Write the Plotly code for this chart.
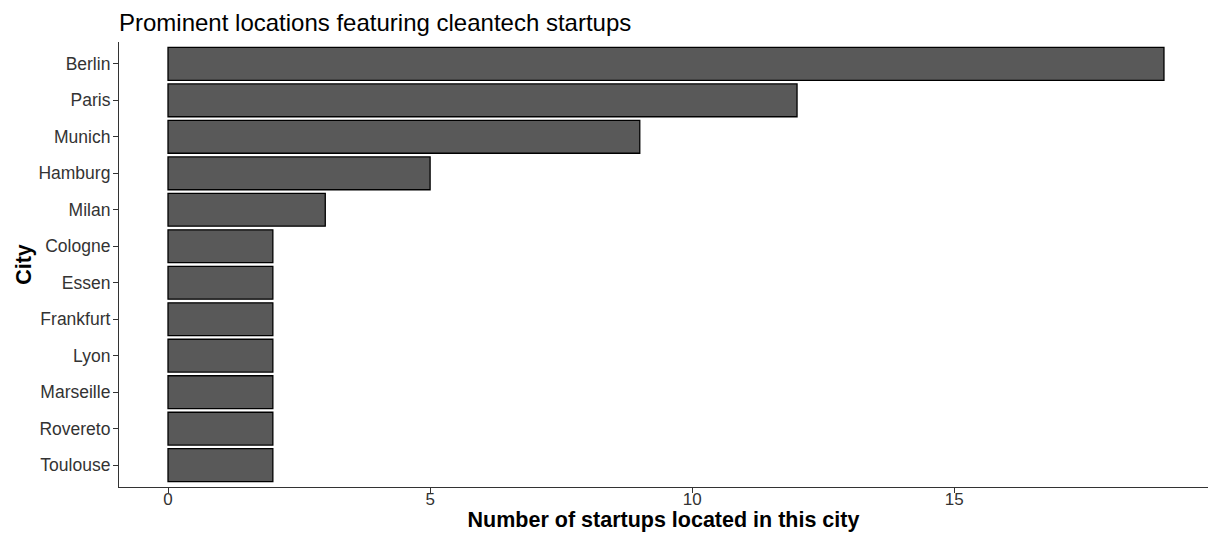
import plotly.graph_objects as go

cities = ["Berlin", "Paris", "Munich", "Hamburg", "Milan", "Cologne", "Essen",
          "Frankfurt", "Lyon", "Marseille", "Rovereto", "Toulouse"]
counts = [19, 12, 9, 5, 3, 2, 2, 2, 2, 2, 2, 2]
x_ticks = [0, 5, 10, 15]

font_family = "Liberation Sans, Arial, Helvetica, sans-serif"

fig = go.Figure(go.Bar(
    x=counts, y=cities, orientation="h", width=0.9,
    marker=dict(color="#595959", line=dict(color="black", width=1.3)),
))

fig.update_layout(
    width=1208, height=536,
    margin=dict(l=119, r=0, t=42, b=49),
    paper_bgcolor="white", plot_bgcolor="white",
    showlegend=False,
    font=dict(family=font_family, color="black"),
    title=dict(text="Prominent locations featuring cleantech startups",
               x=0, xref="paper", xanchor="left", y=0.958, yref="container",
               yanchor="middle", font=dict(size=24, color="black")),
)

fig.update_xaxes(
    range=[-0.935, 19.84], tickvals=x_ticks, ticktext=[str(t) for t in x_ticks],
    showgrid=False, zeroline=False, showline=True, linecolor="#333333", linewidth=1.2,
    ticks="outside", ticklen=5, tickcolor="#333333", tickwidth=1.2,
    tickfont=dict(size=17, color="#333333"), ticklabelstandoff=-9,
    title=dict(text="<b>Number of startups located in this city</b>",
               font=dict(size=21.5, color="black"), standoff=0),
)
fig.update_yaxes(
    categoryorder="array", categoryarray=cities, autorange=False,
    range=[len(cities) - 1 + 0.6, -0.6],
    showgrid=False, zeroline=False, showline=True, linecolor="#333333", linewidth=1.2,
    ticks="outside", ticklen=5, tickcolor="#333333", tickwidth=1.2,
    tickfont=dict(size=17.5, color="#333333"), ticklabelstandoff=-1,
    title=dict(text="<b>City</b>", font=dict(size=21.5, color="black"), standoff=0),
)

fig.write_html(
    "out.html",
    config={"displayModeBar": False},
    post_script="document.body.style.margin='0';document.body.style.overflow='hidden';",
)
